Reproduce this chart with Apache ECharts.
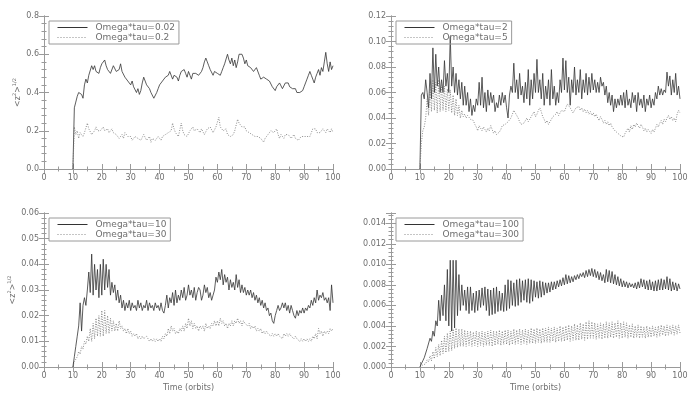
<!DOCTYPE html>
<html>
<head>
<meta charset="utf-8">
<script src="https://cdn.jsdelivr.net/npm/echarts@6/dist/echarts.min.js"></script>
<style>
  html, body { margin: 0; padding: 0; background: #fff; }
  #container { width: 694px; height: 396px; }
</style>
</head>
<body>
<div id="container"></div>
<script>
// samples every half orbit, from t = 10 to t = 100 orbits
var T_START = 10;
var T_STEP = 0.5;
var xTicks = [0, 10, 20, 30, 40, 50, 60, 70, 80, 90, 100];

// panel 1: Omega*tau = 0.02 / 0.2
var omega002 = [
  0, 0.32, 0.35, 0.38, 0.40, 0.41, 0.39, 0.37, 0.44, 0.47, 0.45, 0.49, 0.50, 0.54, 0.52, 0.54, 0.51, 0.52, 0.50, 0.53,
  0.55, 0.56, 0.57, 0.54, 0.52, 0.53, 0.50, 0.51, 0.54, 0.53, 0.51, 0.50, 0.52, 0.55, 0.51, 0.50, 0.48, 0.49, 0.46, 0.47,
  0.44, 0.46, 0.43, 0.42, 0.40, 0.42, 0.39, 0.41, 0.45, 0.48, 0.46, 0.44, 0.45, 0.42, 0.40, 0.39, 0.37, 0.36, 0.40, 0.42,
  0.44, 0.45, 0.46, 0.47, 0.48, 0.49, 0.49, 0.51, 0.50, 0.47, 0.49, 0.50, 0.48, 0.46, 0.49, 0.51, 0.50, 0.52, 0.50, 0.48,
  0.51, 0.49, 0.47, 0.50, 0.51, 0.50, 0.51, 0.49, 0.48, 0.51, 0.53, 0.56, 0.58, 0.56, 0.54, 0.52, 0.51, 0.49, 0.51, 0.52,
  0.50, 0.51, 0.49, 0.51, 0.53, 0.55, 0.56, 0.60, 0.57, 0.55, 0.58, 0.54, 0.57, 0.53, 0.56, 0.60, 0.59, 0.60, 0.58, 0.55,
  0.57, 0.54, 0.55, 0.53, 0.54, 0.51, 0.50, 0.53, 0.52, 0.49, 0.47, 0.46, 0.48, 0.49, 0.47, 0.48, 0.46, 0.45, 0.43, 0.42,
  0.41, 0.43, 0.42, 0.45, 0.44, 0.42, 0.43, 0.45, 0.46, 0.45, 0.43, 0.44, 0.42, 0.41, 0.42, 0.40, 0.41, 0.40, 0.39, 0.41,
  0.43, 0.45, 0.47, 0.49, 0.51, 0.49, 0.47, 0.45, 0.48, 0.50, 0.52, 0.49, 0.53, 0.51, 0.56, 0.61, 0.55, 0.51, 0.56, 0.52,
  0.54
];
var omega02 = [
  0, 0.22, 0.18, 0.20, 0.16, 0.19, 0.20, 0.17, 0.19, 0.18, 0.24, 0.21, 0.20, 0.18, 0.19, 0.20, 0.22, 0.20, 0.21, 0.20,
  0.21, 0.22, 0.20, 0.21, 0.21, 0.19, 0.20, 0.21, 0.19, 0.20, 0.18, 0.17, 0.16, 0.17, 0.18, 0.16, 0.19, 0.18, 0.17, 0.16,
  0.17, 0.15, 0.16, 0.17, 0.18, 0.16, 0.17, 0.15, 0.16, 0.18, 0.17, 0.15, 0.16, 0.17, 0.14, 0.16, 0.17, 0.15, 0.16, 0.17,
  0.16, 0.15, 0.17, 0.16, 0.18, 0.17, 0.19, 0.18, 0.20, 0.24, 0.21, 0.19, 0.18, 0.17, 0.18, 0.24, 0.20, 0.18, 0.19, 0.17,
  0.18, 0.20, 0.19, 0.22, 0.20, 0.19, 0.21, 0.22, 0.19, 0.21, 0.20, 0.18, 0.19, 0.21, 0.20, 0.22, 0.21, 0.19, 0.20, 0.22,
  0.21, 0.27, 0.22, 0.21, 0.20, 0.19, 0.21, 0.18, 0.19, 0.17, 0.16, 0.18, 0.20, 0.23, 0.26, 0.24, 0.23, 0.22, 0.21, 0.22,
  0.20, 0.21, 0.19, 0.20, 0.18, 0.19, 0.17, 0.18, 0.17, 0.16, 0.16, 0.15, 0.14, 0.16, 0.17, 0.18, 0.19, 0.20, 0.21, 0.19,
  0.20, 0.21, 0.18, 0.16, 0.18, 0.17, 0.16, 0.18, 0.17, 0.18, 0.17, 0.16, 0.17, 0.18, 0.16, 0.17, 0.15, 0.16, 0.17, 0.16,
  0.17, 0.16, 0.17, 0.16, 0.17, 0.18, 0.21, 0.20, 0.21, 0.19, 0.20, 0.19, 0.20, 0.21, 0.20, 0.19, 0.21, 0.20, 0.19, 0.21,
  0.19
];

// panel 2: Omega*tau = 2 / 5
var omega2 = [
  0, 0.058, 0.060, 0.055, 0.070, 0.060, 0.048, 0.075, 0.055, 0.095, 0.060, 0.090, 0.065, 0.080, 0.060, 0.070, 0.060, 0.085, 0.065, 0.075,
  0.060, 0.104, 0.065, 0.080, 0.060, 0.075, 0.058, 0.070, 0.055, 0.068, 0.050, 0.065, 0.050, 0.060, 0.045, 0.055, 0.042, 0.050, 0.045, 0.055,
  0.050, 0.068, 0.050, 0.072, 0.048, 0.060, 0.045, 0.062, 0.050, 0.060, 0.052, 0.058, 0.045, 0.052, 0.048, 0.058, 0.050, 0.060, 0.052, 0.058,
  0.048, 0.040, 0.058, 0.065, 0.060, 0.083, 0.060, 0.070, 0.055, 0.075, 0.058, 0.065, 0.052, 0.068, 0.055, 0.078, 0.050, 0.070, 0.055, 0.075,
  0.060, 0.086, 0.060, 0.070, 0.055, 0.075, 0.050, 0.065, 0.055, 0.070, 0.050, 0.078, 0.055, 0.065, 0.050, 0.060, 0.052, 0.070, 0.060, 0.087,
  0.062, 0.085, 0.060, 0.072, 0.050, 0.070, 0.060, 0.080, 0.058, 0.070, 0.060, 0.078, 0.055, 0.070, 0.060, 0.075, 0.058, 0.072, 0.060, 0.075,
  0.062, 0.070, 0.060, 0.068, 0.060, 0.072, 0.065, 0.068, 0.058, 0.065, 0.052, 0.060, 0.050, 0.058, 0.045, 0.055, 0.048, 0.055, 0.050, 0.058,
  0.050, 0.060, 0.048, 0.062, 0.050, 0.055, 0.048, 0.060, 0.052, 0.058, 0.045, 0.060, 0.050, 0.055, 0.048, 0.058, 0.045, 0.055, 0.050, 0.058,
  0.048, 0.055, 0.050, 0.060, 0.055, 0.065, 0.058, 0.063, 0.058, 0.062, 0.060, 0.076, 0.065, 0.073, 0.058, 0.070, 0.060, 0.075, 0.058, 0.065,
  0.055
];
var omega5 = [
  0, 0.020, 0.030, 0.033, 0.040, 0.055, 0.042, 0.065, 0.045, 0.070, 0.046, 0.068, 0.044, 0.070, 0.045, 0.066, 0.046, 0.065, 0.045, 0.063,
  0.046, 0.062, 0.044, 0.058, 0.042, 0.055, 0.042, 0.050, 0.040, 0.046, 0.041, 0.043, 0.040, 0.042, 0.041, 0.039, 0.040, 0.038, 0.035, 0.033,
  0.030, 0.034, 0.032, 0.030, 0.033, 0.031, 0.029, 0.032, 0.030, 0.034, 0.031, 0.028, 0.030, 0.027, 0.026, 0.029, 0.031, 0.034, 0.033, 0.035,
  0.034, 0.037, 0.036, 0.040, 0.043, 0.046, 0.044, 0.042, 0.040, 0.037, 0.035, 0.034, 0.036, 0.038, 0.040, 0.037, 0.039, 0.041, 0.043, 0.045,
  0.041, 0.043, 0.046, 0.048, 0.045, 0.041, 0.039, 0.036, 0.038, 0.035, 0.037, 0.039, 0.041, 0.040, 0.043, 0.045, 0.042, 0.044, 0.046, 0.047,
  0.045, 0.048, 0.051, 0.050, 0.048, 0.046, 0.044, 0.046, 0.048, 0.047, 0.049, 0.046, 0.048, 0.045, 0.047, 0.044, 0.046, 0.043, 0.045, 0.042,
  0.044, 0.041, 0.043, 0.040, 0.038, 0.041, 0.039, 0.036, 0.038, 0.035, 0.037, 0.034, 0.036, 0.033, 0.032, 0.030, 0.031, 0.028, 0.029, 0.026,
  0.027, 0.025, 0.028, 0.030, 0.032, 0.029, 0.034, 0.031, 0.035, 0.033, 0.036, 0.034, 0.032, 0.035, 0.033, 0.030, 0.032, 0.029, 0.031, 0.030,
  0.028, 0.031, 0.029, 0.032, 0.035, 0.033, 0.036, 0.038, 0.035, 0.039, 0.037, 0.040, 0.042, 0.039, 0.041, 0.038, 0.040, 0.037, 0.043, 0.046,
  0.044
];

// panel 3: Omega*tau = 10 / 30
var omega10 = [
  0, 0.004, 0.008, 0.012, 0.016, 0.025, 0.014, 0.024, 0.027, 0.024, 0.030, 0.037, 0.029, 0.044, 0.028, 0.040, 0.030, 0.038, 0.027, 0.040,
  0.028, 0.042, 0.030, 0.040, 0.031, 0.038, 0.028, 0.033, 0.029, 0.032, 0.026, 0.030, 0.025, 0.028, 0.023, 0.026, 0.022, 0.025, 0.023, 0.026,
  0.022, 0.025, 0.023, 0.024, 0.022, 0.026, 0.023, 0.025, 0.022, 0.024, 0.023, 0.026, 0.022, 0.025, 0.023, 0.024, 0.022, 0.025, 0.023, 0.024,
  0.022, 0.025, 0.022, 0.021, 0.024, 0.028, 0.023, 0.027, 0.025, 0.029, 0.024, 0.030, 0.025, 0.028, 0.026, 0.030, 0.027, 0.031, 0.026, 0.028,
  0.032, 0.028, 0.030, 0.027, 0.031, 0.026, 0.029, 0.031, 0.030, 0.026, 0.028, 0.032, 0.029, 0.031, 0.027, 0.029, 0.026, 0.028, 0.030, 0.035,
  0.033, 0.037, 0.034, 0.038, 0.032, 0.036, 0.033, 0.035, 0.030, 0.034, 0.031, 0.033, 0.030, 0.036, 0.031, 0.034, 0.029, 0.032, 0.029, 0.031,
  0.028, 0.030, 0.028, 0.030, 0.027, 0.029, 0.026, 0.028, 0.025, 0.027, 0.024, 0.026, 0.023, 0.025, 0.022, 0.023, 0.020, 0.021, 0.018, 0.017,
  0.020, 0.022, 0.024, 0.022, 0.023, 0.025, 0.023, 0.025, 0.022, 0.024, 0.021, 0.024, 0.022, 0.020, 0.019, 0.022, 0.020, 0.022, 0.021, 0.023,
  0.021, 0.023, 0.022, 0.024, 0.023, 0.026, 0.024, 0.027, 0.025, 0.030, 0.026, 0.028, 0.027, 0.029, 0.026, 0.027, 0.025, 0.027, 0.022, 0.032,
  0.025
];
var omega30 = [
  0, 0.002, 0.003, 0.004, 0.006, 0.005, 0.008, 0.007, 0.010, 0.009, 0.012, 0.010, 0.015, 0.010, 0.017, 0.011, 0.019, 0.012, 0.020, 0.012,
  0.022, 0.012, 0.022, 0.013, 0.020, 0.013, 0.019, 0.014, 0.018, 0.014, 0.017, 0.014, 0.018, 0.015, 0.016, 0.014, 0.015, 0.013, 0.015, 0.013,
  0.014, 0.012, 0.013, 0.012, 0.013, 0.011, 0.012, 0.011, 0.012, 0.011, 0.011, 0.012, 0.011, 0.010, 0.011, 0.010, 0.011, 0.010, 0.011, 0.010,
  0.011, 0.010, 0.012, 0.011, 0.013, 0.012, 0.015, 0.013, 0.016, 0.014, 0.015, 0.013, 0.014, 0.013, 0.015, 0.014, 0.016, 0.014, 0.017, 0.015,
  0.019, 0.016, 0.018, 0.015, 0.017, 0.015, 0.016, 0.014, 0.016, 0.015, 0.016, 0.014, 0.017, 0.015, 0.016, 0.015, 0.017, 0.016, 0.018, 0.016,
  0.018, 0.016, 0.019, 0.017, 0.018, 0.016, 0.017, 0.015, 0.017, 0.016, 0.018, 0.016, 0.018, 0.017, 0.019, 0.017, 0.018, 0.016, 0.018, 0.017,
  0.017, 0.016, 0.017, 0.015, 0.016, 0.015, 0.016, 0.014, 0.015, 0.014, 0.015, 0.013, 0.014, 0.013, 0.014, 0.013, 0.013, 0.012, 0.013, 0.012,
  0.013, 0.012, 0.013, 0.012, 0.012, 0.011, 0.013, 0.012, 0.013, 0.012, 0.013, 0.012, 0.012, 0.011, 0.012, 0.011, 0.011, 0.010, 0.011, 0.010,
  0.011, 0.010, 0.011, 0.010, 0.011, 0.010, 0.012, 0.011, 0.013, 0.011, 0.015, 0.013, 0.014, 0.012, 0.014, 0.013, 0.014, 0.013, 0.015, 0.014,
  0.015
];

// panel 4: Omega*tau = 100 / 300
var omega100 = [
  0, 0.0003, 0.0006, 0.0009, 0.0010, 0.0018, 0.0017, 0.0028, 0.0025, 0.0035, 0.0030, 0.0045, 0.0040, 0.0065, 0.0045, 0.0070, 0.0050, 0.0080, 0.0045, 0.0095,
  0.0040, 0.0104, 0.0035, 0.0104, 0.0038, 0.0104, 0.0050, 0.0090, 0.0055, 0.0080, 0.0060, 0.0075, 0.0055, 0.0078, 0.0052, 0.0078, 0.0055, 0.0072, 0.0053, 0.0074,
  0.0055, 0.0075, 0.0058, 0.0077, 0.0060, 0.0078, 0.0055, 0.0076, 0.0050, 0.0075, 0.0051, 0.0077, 0.0052, 0.0078, 0.0054, 0.0074, 0.0055, 0.0072, 0.0054, 0.0080,
  0.0055, 0.0085, 0.0057, 0.0084, 0.0060, 0.0082, 0.0059, 0.0085, 0.0060, 0.0086, 0.0063, 0.0084, 0.0065, 0.0085, 0.0063, 0.0086, 0.0062, 0.0085, 0.0064, 0.0084,
  0.0068, 0.0083, 0.0067, 0.0084, 0.0068, 0.0083, 0.0070, 0.0082, 0.0072, 0.0082, 0.0073, 0.0083, 0.0075, 0.0083, 0.0076, 0.0084, 0.0078, 0.0085, 0.0079, 0.0087,
  0.0080, 0.0090, 0.0081, 0.0089, 0.0082, 0.0088, 0.0083, 0.0089, 0.0085, 0.0090, 0.0086, 0.0091, 0.0088, 0.0092, 0.0087, 0.0094, 0.0088, 0.0095, 0.0089, 0.0096,
  0.0088, 0.0095, 0.0087, 0.0093, 0.0085, 0.0092, 0.0084, 0.0090, 0.0082, 0.0095, 0.0083, 0.0094, 0.0082, 0.0093, 0.0081, 0.0090, 0.0080, 0.0088, 0.0079, 0.0086,
  0.0078, 0.0084, 0.0078, 0.0083, 0.0077, 0.0082, 0.0078, 0.0081, 0.0077, 0.0082, 0.0076, 0.0083, 0.0077, 0.0086, 0.0078, 0.0085, 0.0076, 0.0084, 0.0075, 0.0085,
  0.0075, 0.0083, 0.0074, 0.0084, 0.0074, 0.0085, 0.0075, 0.0086, 0.0075, 0.0085, 0.0076, 0.0088, 0.0075, 0.0086, 0.0074, 0.0083, 0.0075, 0.0082, 0.0074, 0.0081,
  0.0076
];
var omega300 = [
  0, 0.0001, 0.0002, 0.0003, 0.0003, 0.0007, 0.0005, 0.0011, 0.0006, 0.0015, 0.0008, 0.0019, 0.0010, 0.0022, 0.0011, 0.0026, 0.0013, 0.0030, 0.0014, 0.0033,
  0.0015, 0.0035, 0.0016, 0.0037, 0.0018, 0.0038, 0.0019, 0.0037, 0.0020, 0.0037, 0.0020, 0.0036, 0.0020, 0.0035, 0.0021, 0.0035, 0.0020, 0.0034, 0.0021, 0.0035,
  0.0020, 0.0034, 0.0021, 0.0035, 0.0020, 0.0034, 0.0021, 0.0035, 0.0021, 0.0036, 0.0020, 0.0035, 0.0021, 0.0035, 0.0022, 0.0036, 0.0021, 0.0035, 0.0022, 0.0036,
  0.0022, 0.0036, 0.0021, 0.0035, 0.0022, 0.0037, 0.0022, 0.0036, 0.0023, 0.0037, 0.0022, 0.0036, 0.0023, 0.0037, 0.0022, 0.0036, 0.0023, 0.0038, 0.0023, 0.0037,
  0.0023, 0.0038, 0.0024, 0.0037, 0.0023, 0.0038, 0.0024, 0.0038, 0.0024, 0.0039, 0.0024, 0.0038, 0.0025, 0.0039, 0.0024, 0.0038, 0.0025, 0.0040, 0.0025, 0.0039,
  0.0025, 0.0040, 0.0026, 0.0041, 0.0025, 0.0040, 0.0026, 0.0042, 0.0026, 0.0041, 0.0026, 0.0043, 0.0027, 0.0042, 0.0026, 0.0044, 0.0027, 0.0045, 0.0028, 0.0044,
  0.0028, 0.0043, 0.0027, 0.0042, 0.0028, 0.0043, 0.0027, 0.0042, 0.0028, 0.0044, 0.0028, 0.0043, 0.0029, 0.0044, 0.0028, 0.0043, 0.0029, 0.0045, 0.0028, 0.0043,
  0.0028, 0.0044, 0.0029, 0.0043, 0.0028, 0.0041, 0.0029, 0.0042, 0.0028, 0.0040, 0.0029, 0.0041, 0.0028, 0.0040, 0.0029, 0.0039, 0.0028, 0.0040, 0.0029, 0.0039,
  0.0029, 0.0040, 0.0030, 0.0039, 0.0029, 0.0040, 0.0030, 0.0041, 0.0031, 0.0040, 0.0030, 0.0041, 0.0031, 0.0040, 0.0032, 0.0041, 0.0031, 0.0040, 0.0032, 0.0041,
  0.0033
];

var TEXT = '#6f6f6f';
var AXIS = '#9a9a9a';
var SOLID = '#333333';
var DOTTED = '#707070';

var panels = [
  { left: 44, top: 16, height: 153, max: 0.8, interval: 0.2, digits: 1, yName: true, xName: false,
    names: ['Omega*tau=0.02', 'Omega*tau=0.2'], data: [omega002, omega02] },
  { left: 391, top: 16, height: 153, max: 0.12, interval: 0.02, digits: 2, yName: false, xName: false,
    names: ['Omega*tau=2', 'Omega*tau=5'], data: [omega2, omega5] },
  { left: 44, top: 213, height: 154, max: 0.06, interval: 0.01, digits: 2, yName: true, xName: true,
    names: ['Omega*tau=10', 'Omega*tau=30'], data: [omega10, omega30] },
  { left: 391, top: 213, height: 154, max: 0.015, interval: 0.002, digits: 3, yName: false, xName: true,
    names: ['Omega*tau=100', 'Omega*tau=300'], data: [omega100, omega300] }
];

function toPairs(values) {
    return values.map(function (v, i) { return [T_START + i * T_STEP, v]; });
}

function tickStyle(show) {
    return {
        axisLine: { show: true, lineStyle: { color: AXIS, width: 1 } },
        axisTick: { show: true, inside: true, length: 5, lineStyle: { color: AXIS } },
        minorTick: { show: true, length: 2.5, lineStyle: { color: AXIS } },
        splitLine: { show: false },
        axisLabel: { show: show }
    };
}

var option = {
    animation: false,
    backgroundColor: '#fff',
    textStyle: { fontFamily: 'DejaVu Sans' },
    grid: [], xAxis: [], yAxis: [], legend: [], series: []
};

panels.forEach(function (p, k) {
    option.grid.push({ left: p.left, top: p.top, width: 289, height: p.height, outerBoundsMode: 'none' });

    ['bottom', 'top'].forEach(function (pos) {
        var ax = Object.assign({
            type: 'value', gridIndex: k, position: pos, min: 0, max: 100, interval: 10
        }, tickStyle(pos === 'bottom'));
        ax.minorTick.splitNumber = 2;
        if (pos === 'bottom') {
            ax.axisLabel = { show: true, fontSize: 8, color: TEXT, margin: 5 };
            if (p.xName) {
                ax.name = 'Time (orbits)';
                ax.nameLocation = 'middle';
                ax.nameGap = 17;
                ax.nameTextStyle = { fontSize: 8, color: TEXT };
            }
        }
        option.xAxis.push(ax);
    });

    ['left', 'right'].forEach(function (pos) {
        var ax = Object.assign({
            type: 'value', gridIndex: k, position: pos, min: 0, max: p.max, interval: p.interval
        }, tickStyle(pos === 'left'));
        ax.minorTick.splitNumber = 5;
        if (pos === 'left') {
            ax.axisLabel = {
                show: true, fontSize: 8, color: TEXT, margin: 5, showMaxLabel: p.max !== 0.015,
                formatter: function (v) { return v.toFixed(p.digits); }
            };
            if (p.yName) {
                ax.name = '<z{s|2}>{s|1/2}';
                ax.nameLocation = 'middle';
                ax.nameRotate = 90;
                ax.nameGap = 19;
                ax.nameTextStyle = {
                    fontSize: 8, color: TEXT,
                    rich: { s: { fontSize: 5, color: TEXT, verticalAlign: 'top', lineHeight: 12 } }
                };
            }
        }
        option.yAxis.push(ax);
    });

    option.legend.push({
        data: [
            { name: p.names[0], lineStyle: { type: 'solid', width: 1, color: SOLID } },
            { name: p.names[1], lineStyle: { type: [1, 2], width: 1, color: '#8a8a8a' } }
        ],
        orient: 'vertical',
        left: p.left + 5,
        top: p.top + 5,
        itemWidth: 30,
        itemHeight: 7,
        itemGap: 1,
        padding: [2, 4, 2, 8],
        borderColor: AXIS,
        borderWidth: 1,
        selectedMode: false,
        itemStyle: { opacity: 0 },
        textStyle: { fontSize: 9, color: TEXT, padding: [0, 0, 0, 3] }
    });

    p.data.forEach(function (values, j) {
        option.series.push({
            name: p.names[j],
            type: 'line',
            xAxisIndex: 2 * k,
            yAxisIndex: 2 * k,
            data: toPairs(values),
            symbol: 'none',
            color: j === 0 ? SOLID : DOTTED,
            lineStyle: { width: 0.8, type: j === 0 ? 'solid' : [1, 1.5], color: j === 0 ? SOLID : DOTTED }
        });
    });
});

var myChart = echarts.init(document.getElementById('container'));
myChart.setOption(option);
</script>
</body>
</html>
